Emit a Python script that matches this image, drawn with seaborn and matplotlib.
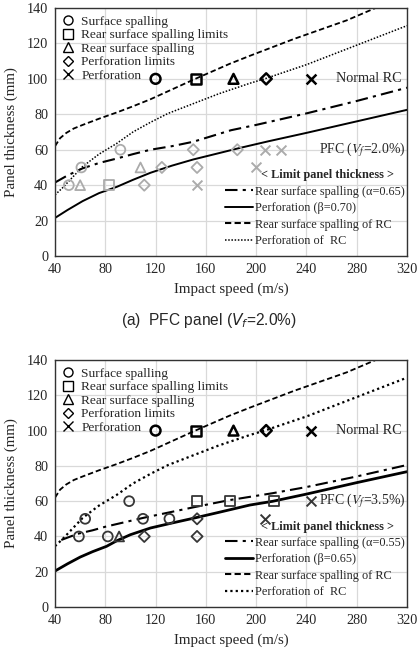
import numpy as np
import pandas as pd
import seaborn as sns
import matplotlib.pyplot as plt
from matplotlib.lines import Line2D

sns.set_style("white")
plt.rcParams['font.family'] = ['Liberation Serif', 'DejaVu Serif']
plt.rcParams['mathtext.fontset'] = 'stix'

# ---- data ----
# normal RC test points (same for both panels), thickness 100 mm
rc_speed = [120, 152, 182, 208, 244]
rc_thick = [100, 100, 100, 100, 100]
rc_marker = ["o", "s", "^", "D", "x"]

# panel (a): PFC Vf=2.0%
a_circle = ([51, 61, 92], [40, 50, 60])
a_square = ([83], [40])
a_triangle = ([60, 108], [40, 50])
a_diamond = ([111, 125, 150, 153, 185], [40, 50, 60, 50, 60])
a_cross = ([153, 200, 207, 220], [40, 50, 60, 60])

# panel (b): PFC Vf=3.5%
b_circle = ([59, 64, 82, 99, 110, 131], [40, 50, 40, 60, 50, 50])
b_square = ([153, 179, 214], [60, 60, 60])
b_triangle = ([91], [40])
b_diamond = ([111, 153, 153], [40, 50, 40])
b_cross = ([207, 244], [50, 60])

# limit thickness curves
rc_spall_v = [40, 44, 49, 55, 62, 75, 89, 102, 116, 133, 150, 179, 195, 230, 272, 295]
rc_spall_h = [62, 66.5, 69.5, 72, 74, 77.5, 81, 84.5, 88.5, 94, 99.5, 108.5, 113, 122.5, 133, 140]
rc_perf_v = [40, 46, 54, 62, 75, 89, 102, 116, 130, 150, 170, 195, 208, 240, 280, 320]
rc_perf_h = [34.5, 38.5, 44.5, 50.5, 57.5, 63.5, 70, 75.5, 80.5, 86, 91.5, 97.5, 100.3, 108, 119, 130]

a_spall_v = [40, 50, 62, 75, 89, 102, 116, 133, 150, 180, 200, 240, 280, 320]
a_spall_h = [41.5, 45.5, 49.5, 52.5, 55, 57.5, 60, 62, 64.5, 71, 74, 80.5, 87.5, 95]
a_perf_v = [40, 50, 62, 75, 89, 102, 116, 133, 150, 170, 187, 210, 240, 280, 320]
a_perf_h = [21.5, 26, 31, 35.5, 39, 43, 47, 51, 54.5, 58, 61, 64.8, 69.5, 76, 82.5]

b_spall_v = [45, 58, 70, 80, 95, 110, 130, 150, 178, 213, 240, 280, 320]
b_spall_h = [38, 41.5, 43.5, 45.5, 48, 50.5, 53.5, 56.5, 60.5, 64.5, 68, 74, 80.5]
b_perf_v = [40, 50, 60, 70, 81, 89, 100, 116, 133, 150, 170, 195, 213, 240, 280, 320]
b_perf_h = [20.4, 24.5, 28.3, 31.4, 34.4, 37.5, 41, 44.8, 47.6, 50.3, 53.6, 57.8, 59.9, 64, 70.5, 76.7]

panels = [
    dict(pts=[a_circle, a_square, a_triangle, a_diamond, a_cross], col="#ababab",
         spall=(a_spall_v, a_spall_h), perf=(a_perf_v, a_perf_h),
         pfc="PFC ($V_f$=2.0%)", alpha="0.65", beta="0.70", perf_lw=1.4,
         dot_lw=1.1),
    dict(pts=[b_circle, b_square, b_triangle, b_diamond, b_cross], col="#363636",
         spall=(b_spall_v, b_spall_h), perf=(b_perf_v, b_perf_h),
         pfc="PFC ($V_f$=3.5%)", alpha="0.55", beta="0.65", perf_lw=2.0,
         dot_lw=1.6),
]

point_names = ["Surface spalling", "Rear surface spalling limits",
               "Rear surface spalling", "Perforation limits", "Perforation"]

DASH = (0, (3, 1.6))
DASHDOT = (0, (6, 2.5, 1.5, 2.5))

fig = plt.figure(figsize=(4.18, 6.65), dpi=100)
ax_a = fig.add_axes([0.1316, 0.615, 0.842, 0.373])
ax_b = fig.add_axes([0.1316, 0.0872, 0.842, 0.3714])

for ax, p in zip([ax_a, ax_b], panels):
    dot = (0, (1, 1.4)) if p["dot_lw"] > 1.3 else (0, (1, 1.1))
    # curves
    sns.lineplot(x=rc_spall_v, y=rc_spall_h, ax=ax, color="black", lw=1.3,
                 linestyle=DASH, estimator=None, sort=False)
    sns.lineplot(x=rc_perf_v, y=rc_perf_h, ax=ax, color="black", lw=p["dot_lw"],
                 linestyle=dot, estimator=None, sort=False)
    sns.lineplot(x=p["spall"][0], y=p["spall"][1], ax=ax, color="black", lw=1.5,
                 linestyle=DASHDOT, estimator=None, sort=False)
    sns.lineplot(x=p["perf"][0], y=p["perf"][1], ax=ax, color="black",
                 lw=p["perf_lw"], estimator=None, sort=False)

    # PFC points
    for (xs, ys), m in zip(p["pts"], rc_marker):
        df = pd.DataFrame({"speed": xs, "thick": ys})
        if m == "x":
            sns.scatterplot(data=df, x="speed", y="thick", ax=ax, marker="x",
                            s=50, color=p["col"], linewidth=1.4, zorder=4)
        else:
            sns.scatterplot(data=df, x="speed", y="thick", ax=ax, marker=m,
                            s=50 if m != "D" else 32, facecolor="none",
                            edgecolor=p["col"], linewidth=1.3, zorder=4)
    # normal RC points
    for xs, ys, m in zip(rc_speed, rc_thick, rc_marker):
        if m == "x":
            ax.scatter([xs], [ys], marker="x", s=50, color="black", lw=1.8, zorder=5)
        else:
            ax.scatter([xs], [ys], marker=m, s=50 if m != "D" else 32,
                       facecolor="none", edgecolor="black", lw=1.8, zorder=5)

    ax.set_xlim(40, 320)
    ax.set_ylim(0, 140)
    ax.set_xticks(np.arange(40, 321, 40))
    ax.set_yticks(np.arange(0, 141, 20))
    ax.grid(True, color="#d9d9d9", lw=0.9)
    ax.set_axisbelow(True)
    for sp in ax.spines.values():
        sp.set_color("#333333")
        sp.set_linewidth(1.0)
    ax.tick_params(labelsize=10.3, length=0, pad=5)
    ax.set_xlabel("Impact speed (m/s)", fontsize=10.8, labelpad=5)
    ax.set_ylabel("Panel thickness (mm)", fontsize=10.8, labelpad=6)

    ax.text(316, 100, "Normal RC", ha="right", va="center", fontsize=10.2)
    ax.text(319, 60, p["pfc"], ha="right", va="center", fontsize=9.9)
    ax.text(257, 45.5, "< Limit panel thickness >", ha="center", va="center",
            fontsize=8.8, fontweight="bold")

    h1 = [Line2D([], [], marker=m, ls="none", color="black", mfc="none",
                 ms=6.5 if m != "D" else 5.5, mew=1.0) for m in rc_marker]
    leg1 = ax.legend(h1, point_names, loc="upper left", frameon=False,
                     fontsize=9.6, handlelength=0.8, handletextpad=0.6,
                     labelspacing=0.08, borderaxespad=0.28, borderpad=0.3)
    ax.add_artist(leg1)

    h2 = [Line2D([], [], color="black", lw=1.5, ls=DASHDOT),
          Line2D([], [], color="black", lw=p["perf_lw"]),
          Line2D([], [], color="black", lw=1.5, ls=DASH),
          Line2D([], [], color="black", lw=p["dot_lw"], ls=dot)]
    n2 = ["Rear surface spalling (\u03b1=%s)" % p["alpha"],
          "Perforation (\u03b2=%s)" % p["beta"],
          "Rear surface spalling of RC",
          "Perforation of  RC"]
    ax.legend(h2, n2, loc="lower right", bbox_to_anchor=(1.008, 0.017),
              borderaxespad=0, frameon=False, fontsize=8.8, handlelength=2.3,
              handletextpad=0.15, labelspacing=0.36)

fig.text(0.5, 1 - 320 / 665, "(a)  PFC panel ($V_f$=2.0%)", ha="center",
         va="center", fontsize=11.2, family=["Liberation Sans", "DejaVu Sans"],
         math_fontfamily="dejavusans")

fig.savefig("out.png", dpi=100)
